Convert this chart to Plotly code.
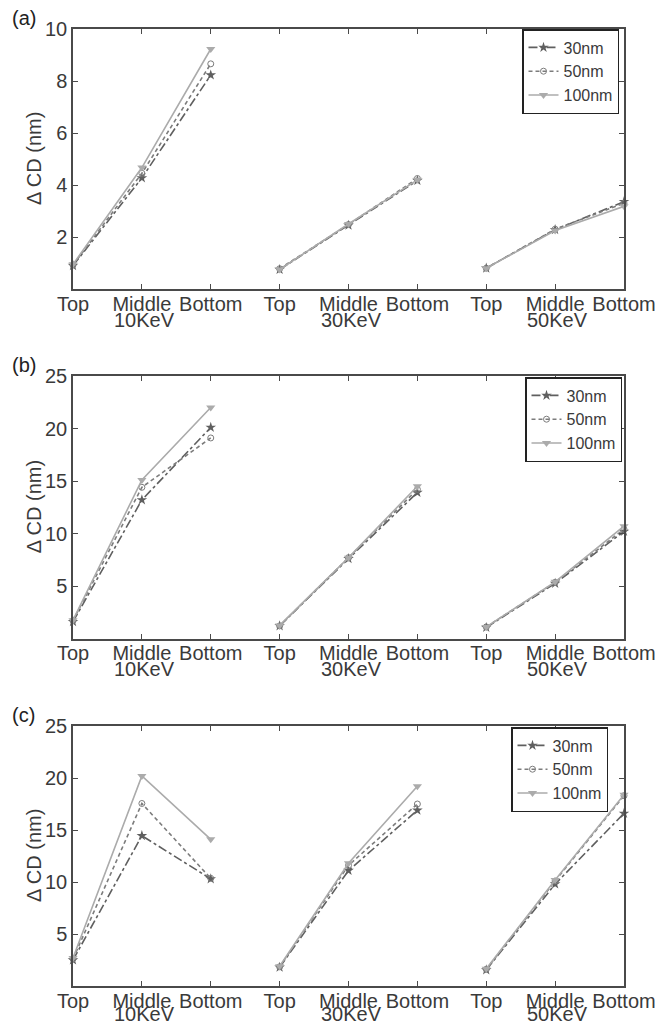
import plotly.graph_objects as go

positions = ["Top", "Middle", "Bottom"]
energies = ["10KeV", "30KeV", "50KeV"]
series_names = ["30nm", "50nm", "100nm"]

# panel (a)
a_30nm = [0.90, 4.27, 8.23, 0.75, 2.45, 4.17, 0.80, 2.28, 3.36]
a_50nm = [0.92, 4.45, 8.66, 0.78, 2.48, 4.25, 0.80, 2.30, 3.30]
a_100nm = [0.95, 4.67, 9.23, 0.75, 2.50, 4.20, 0.80, 2.25, 3.18]
# panel (b)
b_30nm = [1.60, 13.2, 20.1, 1.20, 7.60, 13.9, 1.05, 5.25, 10.2]
b_50nm = [1.70, 14.4, 19.1, 1.20, 7.70, 14.2, 1.10, 5.35, 10.4]
b_100nm = [1.75, 15.1, 22.0, 1.25, 7.70, 14.5, 1.10, 5.40, 10.7]
# panel (c)
c_30nm = [2.50, 14.45, 10.3, 1.80, 11.1, 16.9, 1.55, 9.80, 16.6]
c_50nm = [2.60, 17.55, 10.35, 1.85, 11.6, 17.5, 1.60, 10.1, 18.3]
c_100nm = [2.70, 20.2, 14.1, 1.90, 11.8, 19.2, 1.65, 10.2, 18.4]

panels = [
    ("(a)", [a_30nm, a_50nm, a_100nm], [0, 10], [2, 4, 6, 8, 10]),
    ("(b)", [b_30nm, b_50nm, b_100nm], [0, 25], [5, 10, 15, 20, 25]),
    ("(c)", [c_30nm, c_50nm, c_100nm], [0, 25], [5, 10, 15, 20, 25]),
]

W, H = 667, 1027
x_left, x_right = 73, 624
# pixel (top, bottom) of each plot area
panel_px = [(29, 289), (376, 638.5), (726, 986)]
legend_px = [(619, 29), (622, 377), (608, 727)]
energy_offset = [31, 31, 28]

styles = [
    dict(color="#5f5f5f", dash="dashdot", symbol="star", size=8),
    dict(color="#7c7c7c", dash="4px,3px", symbol="circle-open", size=6),
    dict(color="#ababab", dash="solid", symbol="triangle-down", size=8),
]

fig = go.Figure()
n_pos = len(positions)
xs_all = list(range(1, n_pos * len(energies) + 1))

def gapped(vals):
    xs, ys = [], []
    for g in range(len(energies)):
        for k in range(n_pos):
            xs.append(xs_all[g * n_pos + k])
            ys.append(vals[g * n_pos + k])
        xs.append(None)
        ys.append(None)
    return xs, ys

font_family = "Liberation Sans, Arial, sans-serif"
text_col = "#3a3a3a"
axis_col = "#4a4a4a"

for p, (label, data, yr, yt) in enumerate(panels):
    sfx = "" if p == 0 else str(p + 1)
    top, bot = panel_px[p]
    ydom = [(H - bot) / H, (H - top) / H]
    leg = "legend" if p == 0 else f"legend{p + 1}"
    for s, vals in enumerate(data):
        st = styles[s]
        xs, ys = gapped(vals)
        fig.add_trace(go.Scatter(
            x=xs, y=ys, mode="lines+markers", name=series_names[s],
            xaxis="x" + sfx, yaxis="y" + sfx, legend=leg,
            cliponaxis=False, connectgaps=False,
            line=dict(color=st["color"], width=1.6, dash=st["dash"]),
            marker=dict(symbol=st["symbol"], size=st["size"], color=st["color"],
                        line=dict(width=1 if st["symbol"] == "circle-open" else 0,
                                  color=st["color"])),
        ))
    fig.update_layout(**{
        "xaxis" + sfx: dict(
            domain=[x_left / W, x_right / W], anchor="y" + sfx, automargin=False,
            range=[1, 9], tickmode="array", tickvals=xs_all,
            ticktext=positions * len(energies), ticklabelstandoff=-4,
            ticks="inside", ticklen=5, tickcolor=axis_col,
            showline=True, linecolor=axis_col, linewidth=1.5, mirror="ticks",
            showgrid=False, zeroline=False,
            tickfont=dict(size=20, color=text_col, family=font_family),
        ),
        "yaxis" + sfx: dict(
            domain=ydom, anchor="x" + sfx, range=yr, automargin=False,
            tickmode="array", tickvals=yt,
            ticks="inside", ticklen=5, tickcolor=axis_col,
            showline=True, linecolor=axis_col, linewidth=1.5, mirror="ticks",
            showgrid=False, zeroline=False,
            tickfont=dict(size=20, color=text_col, family=font_family),
        ),
        leg: dict(
            x=legend_px[p][0] / W, xanchor="right",
            y=(H - legend_px[p][1]) / H, yanchor="top",
            bordercolor="#222222", borderwidth=1.5, bgcolor="white",
            font=dict(size=16, color=text_col, family=font_family),
            tracegroupgap=0, itemwidth=30,
        ),
    })
    # panel letter
    fig.add_annotation(text=label, x=24 / W, y=(H - (top - 11)) / H,
                       xref="paper", yref="paper", showarrow=False,
                       xanchor="center", yanchor="middle",
                       font=dict(size=20, color="#222222", family=font_family))
    # y title
    fig.add_annotation(text="Δ CD (nm)", x=34 / W, y=(H - (top + bot) / 2) / H,
                       xref="paper", yref="paper", showarrow=False, textangle=-90,
                       xanchor="center", yanchor="middle",
                       font=dict(size=20, color=text_col, family=font_family))
    # energy group labels
    for g, e in enumerate(energies):
        fig.add_annotation(text=e, x=xs_all[g * n_pos + 1] + 0.04,
                           y=(H - (bot + energy_offset[p])) / H,
                           xref="x" + sfx, yref="paper", showarrow=False,
                           xanchor="center", yanchor="middle", borderpad=0,
                           font=dict(size=20, color=text_col, family=font_family))

fig.update_layout(
    width=W, height=H, margin=dict(l=0, r=0, t=0, b=0, autoexpand=False),
    paper_bgcolor="white", plot_bgcolor="white", showlegend=True,
    font=dict(family=font_family, color=text_col),
)

fig.write_html("out.html")
